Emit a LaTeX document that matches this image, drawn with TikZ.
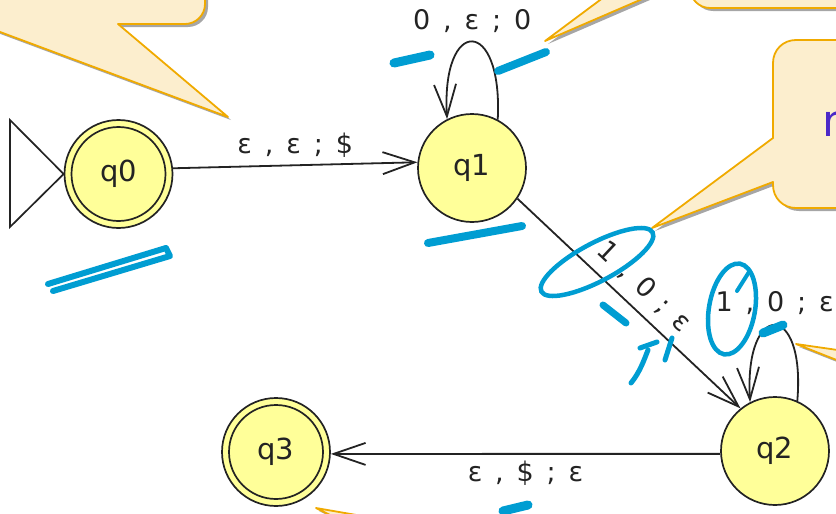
\documentclass[tikz,border=0pt]{standalone}
\usepackage{fontspec}
\setmainfont{DejaVu Sans}
\newfontfamily\lab[WordSpace=1.5]{DejaVu Sans}
\usetikzlibrary{arrows.meta,shadows}
\definecolor{stfill}{RGB}{255,255,153}
\definecolor{cfill}{RGB}{252,238,206}
\definecolor{cedge}{RGB}{240,170,0}
\definecolor{pen}{RGB}{0,157,210}
\definecolor{ink}{RGB}{35,35,35}
\definecolor{purp}{RGB}{75,40,200}
\begin{document}
\begin{tikzpicture}[x=1pt,y=-1pt,
  state/.style={circle,draw=ink,fill=stfill,line width=1.7pt,minimum size=108pt,inner sep=0pt,
    font=\fontsize{29}{32}\selectfont,text=ink},
  ringline/.style={draw=ink,line width=1.7pt},
  trans/.style={draw=ink,line width=1.8pt,-{Straight Barb[length=32pt,width=22pt]}},
  elabel/.style={font=\lab\fontsize{27}{29}\selectfont,text=ink,inner sep=2pt},
  callout/.style={fill=cfill,draw=cedge,line width=1.8pt,line join=round,
    drop shadow={shadow xshift=3pt,shadow yshift=-3pt,opacity=0.35,fill=black}},
  scrib/.style={draw=pen,line width=8pt,line cap=round,line join=round},
  pring/.style={draw=pen,line width=4.5pt,line cap=round}]
\useasboundingbox (0,0) rectangle (836,514);
\clip (0,0) rectangle (836,514);

% callouts
\path[callout] (-20,-20) -- (205,-20) -- (205,4) .. controls (205,15) and (196,24) .. (185,24)
  -- (118,24) -- (228,117) -- (-20,24.5) -- cycle;
\path[callout] (545,41) -- (690,-21.6) -- (690,-12) .. controls (690,-1) and (699,8) .. (710,8)
  -- (860,8) -- (860,-100) -- (690,-100) -- (690,-67) -- cycle;
\path[callout] (773,138) -- (773,63) .. controls (773,50) and (783,40) .. (796,40) -- (900,40)
  -- (900,208) -- (796,208) .. controls (783,208) and (773,198) .. (773,185) -- (773,182)
  -- (652,228) -- cycle;
\path[callout] (796,344) -- (900,359) -- (900,385) -- cycle;
\path[callout] (316,508) -- (420,526) -- (380,540) -- cycle;
\node[anchor=west,text=purp,font=\fontsize{44}{48}\selectfont,inner sep=0pt] (ntext) at (822,124) {n};

% states
\node[state] (q0) at (118.5,174) {q0};
\node[state] (q1) at (472,168) {q1};
\node[state] (q2) at (775,451) {q2};
\node[state] (q3) at (276,452) {q3};
\draw[ringline] (q0.center) circle[radius=47];
\draw[ringline] (q3.center) circle[radius=47];
\draw[ringline,fill=white] (q0.west) -- (10,120) -- (10,227) -- cycle;

% transitions
\draw[trans] (q0.6) -- node[elabel,above=5pt] {ε , ε ; \$} (q1.174);
\draw[trans] (q1.62) .. controls (503,16) and (441,16) .. node[elabel,above=6pt] {0 , ε ; 0} (q1.117);
\draw[trans] (q1.-34) -- node[elabel,sloped,above=8pt] {1 , 0 ; ε} (q2.129);
\draw[trans] (q2.66) .. controls (806,300) and (744,300) .. node[elabel,above=8pt] {1 , 0 ; ε} (q2.117);
\draw[trans] (q2.183) -- node[elabel,below=4pt] {ε , \$ ; ε} (q3.-2);

% blue pen marks
\path[scrib,line width=6pt] (48,284) -- (166,248) -- (170,256) -- (53,291);
\path[scrib] (428,243) -- (522,226);
\path[scrib,line width=9pt] (394,63) -- (430,55);
\path[scrib] (498,71) -- (546,52);
\draw[pring,rotate around={28:(597,262)}] (597,262) ellipse[x radius=63,y radius=19];
\path[scrib,line width=7pt] (603,305) -- (626,323);
\path[scrib,line width=5pt] (631,383) .. controls (640,372) and (644,360) .. (648,350);
\path[scrib,line width=5pt] (640,348) -- (657,342);
\path[scrib,line width=5pt] (665,360) -- (672,338);
\draw[pring,rotate around={-10:(732,309)}] (732,309) ellipse[x radius=23,y radius=46];
\path[scrib,line width=4pt] (737,291) -- (749,272);
\path[scrib,line width=9pt] (763,333) -- (783,325);
\path[scrib,line width=9pt] (503,511) -- (528,505);
\end{tikzpicture}
\end{document}
